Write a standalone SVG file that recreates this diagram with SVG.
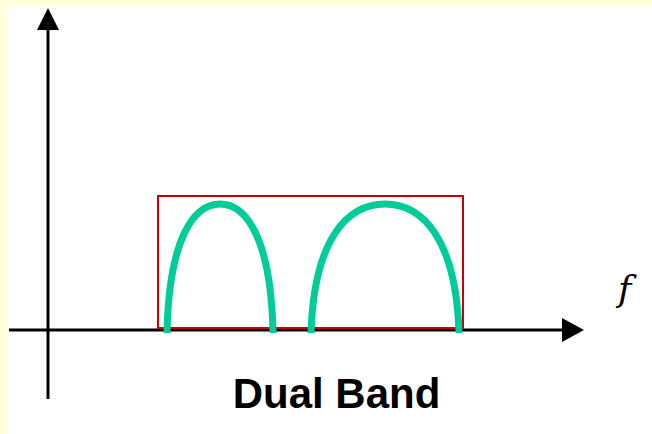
<svg xmlns="http://www.w3.org/2000/svg" width="652" height="434" viewBox="0 0 652 434">
<defs>
<style>
.axis{stroke:#000;stroke-width:3;fill:none}
.head{fill:#000}
.band{stroke:#00CC99;stroke-width:7;fill:none}
.f{font-family:'DejaVu Serif','Liberation Serif',serif;font-style:italic;font-size:36px}
.title{font-family:'Liberation Sans',Arial,sans-serif;font-weight:bold;font-size:42px}
</style>
</defs>
<rect x="0" y="0" width="652" height="434" fill="#FFFFDD"/>
<rect x="8" y="6" width="644" height="428" fill="#FFFFFF"/>
<g id="axes">
<line class="axis" x1="48" y1="28" x2="48" y2="399"/>
<polygon class="head" points="48,8 37,30 59,30"/>
<line class="axis" x1="9" y1="330" x2="564" y2="330"/>
<polygon class="head" points="584,330 562,318 562,342"/>
</g>
<g id="box">
<rect x="158" y="196" width="305" height="132" fill="none" stroke="#CC0000" stroke-width="2"/>
</g>
<g id="bands">
<path class="band" d="M167,333 C169,238 194,204 220,204 C246,204 271,238 273,333"/>
<path class="band" d="M311,333 C314,238 348,204 385,204 C422,204 456,238 459,333"/>
</g>
<text class="f" x="618" y="301">f</text>
<text class="title" x="336.5" y="408" text-anchor="middle">Dual Band</text>
</svg>
